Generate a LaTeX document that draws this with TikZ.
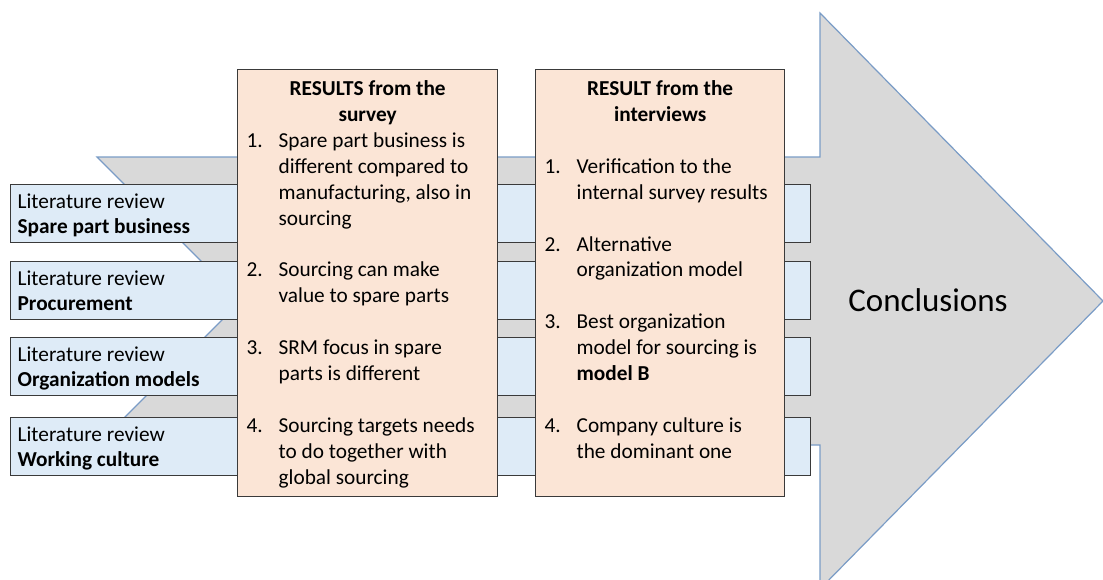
\documentclass[tikz,border=0pt]{standalone}
\usepackage{fontspec}
\setmainfont{Carlito}
\usepackage{tikz}

\definecolor{litblue}{HTML}{DEEBF7}
\definecolor{respink}{HTML}{FBE5D6}
\definecolor{arrowgray}{HTML}{D9D9D9}
\definecolor{arrowline}{HTML}{7A9CC6}
\definecolor{boxline}{HTML}{3A3A3A}

\newcommand{\bodyfont}{\fontsize{21.3}{25.9}\selectfont}

\begin{document}
\begin{tikzpicture}[x=1pt, y=-1pt,
	litbox/.style={draw=boxline, fill=litblue, line width=1.3pt, anchor=north west,
		inner xsep=7pt, inner ysep=0pt, text width=786pt, align=flush left,
		text height=24pt, text depth=34pt, font=\fontsize{21.3}{25}\selectfont},
	resbox/.style={draw=boxline, fill=respink, line width=1.3pt, anchor=north west,
		inner sep=0pt, text height=26pt, text depth=401pt, font=\bodyfont}]
				\clip (0,0) rectangle (1103,579);
				\draw[arrowline, fill=arrowgray, line width=1.2pt] (97,157) -- (820,157) -- (820,13) -- (1103,301)
					-- (820,589) -- (820,445) -- (97,445) -- (241,301) -- cycle;
				\node[font=\fontsize{33}{40}\selectfont] (concl) at (928,300) {Conclusions};
				\node[litbox] (spare) at (10,184) {Literature review\\\textbf{Spare part business}};
				\node[litbox] (procure) at (10,261) {Literature review\\\textbf{Procurement}};
				\node[litbox] (orgmod) at (10,337) {Literature review\\\textbf{Organization models}};
				\node[litbox] (culture) at (10,417) {Literature review\\\textbf{Working culture}};
				\node[resbox] (survey) at (237,69) {\begin{tabular}[t]{@{\hspace{9pt}}p{32pt}@{}p{219pt}@{}}
					\multicolumn{2}{@{}c@{}}{\bfseries RESULTS from the}\\
					\multicolumn{2}{@{}c@{}}{\bfseries survey}\\
					1. & Spare part business is\\
					   & different compared to\\
					   & manufacturing, also in\\
					   & sourcing\\
					   & \\
					2. & Sourcing can make\\
					   & value to spare parts\\
					   & \\
					3. & SRM focus in spare\\
					   & parts is different\\
					   & \\
					4. & Sourcing targets needs\\
					   & to do together with\\
					   & global sourcing
				\end{tabular}};
				\node[resbox] (interviews) at (535,69) {\begin{tabular}[t]{@{\hspace{9pt}}p{32pt}@{}p{208pt}@{}}
					\multicolumn{2}{@{}c@{}}{\bfseries RESULT from the}\\
					\multicolumn{2}{@{}c@{}}{\bfseries interviews}\\
					   & \\
					1. & Verification to the\\
					   & internal survey results\\
					   & \\
					2. & Alternative\\
					   & organization model\\
					   & \\
					3. & Best organization\\
					   & model for sourcing is\\
					   & \textbf{model B}\\
					   & \\
					4. & Company culture is\\
					   & the dominant one
				\end{tabular}};
\end{tikzpicture}
\end{document}
